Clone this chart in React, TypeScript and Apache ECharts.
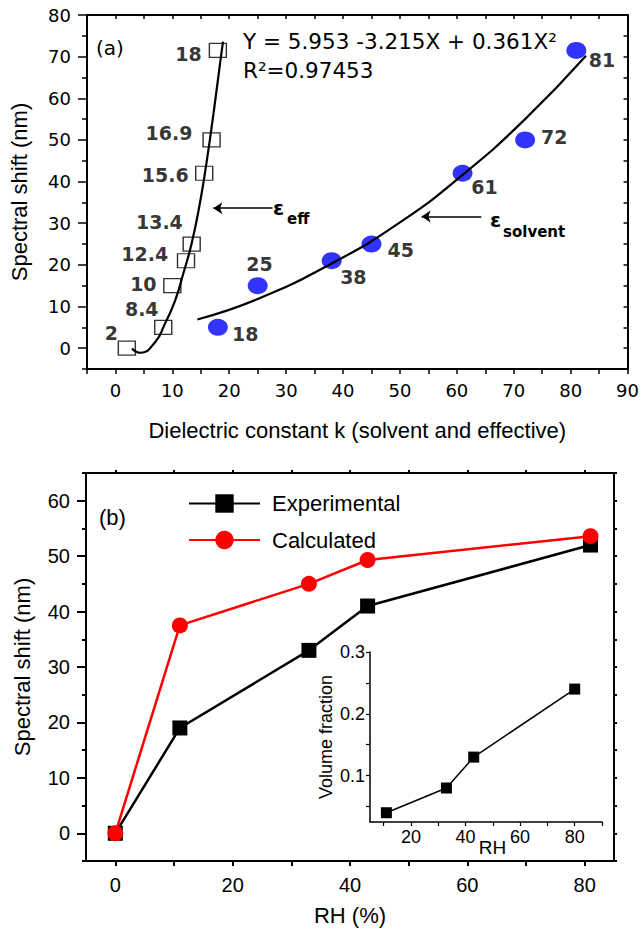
import React, { useEffect, useRef } from "react";
import * as echarts from "echarts";

// ---- Panel (a) data ----
const effK = [2, 8.4, 10, 12.4, 13.4, 15.6, 16.9, 18];
const effShift = [0, 5, 15, 21, 25, 42, 50, 71.5];
const solvK = [18, 25, 38, 45, 61, 72, 81];
const solvShift = [5, 15, 21, 25, 42, 50, 71.5];
// fit curves
const effFitK = [2.9, 4.4, 7.0, 8.7, 10.5, 11.9, 13.4, 14.8, 16.0, 17.2, 18.3, 18.9];
const effFitShift = [-0.1, -1.1, 1.5, 5.9, 11.5, 17.8, 25.2, 34.5, 44.5, 56, 67.5, 73.6];
const solvFitK = [14.4, 25, 38.1, 50, 61, 72, 82.7];
const solvFitShift = [6.9, 11.8, 20.4, 30.2, 41.6, 55.0, 70.2];
const effArrow = [[27.6, 33.6], [17.2, 33.6]];
const solvArrow = [[64.3, 31.6], [53.8, 31.6]];
const topXLabels = [0, 10, 20, 30, 40, 50, 60, 70, 80, 90];
const topXTicks = [-5, 0, 5, 10, 15, 20, 25, 30, 35, 40, 45, 50, 55, 60, 65, 70, 75, 80, 85, 90];
const topYLabels = [0, 10, 20, 30, 40, 50, 60, 70, 80];
const topYMinor = [-5, 5, 15, 25, 35, 45, 55, 65, 75];
const topYAll = [-5, 0, 5, 10, 15, 20, 25, 30, 35, 40, 45, 50, 55, 60, 65, 70, 75, 80];
const equationText = "Y = 5.953 -3.215X + 0.361X²";
const r2Text = "R²=0.97453";

// ---- Panel (b) data ----
const rhValues = [0, 11, 33, 43, 81];
const expShift = [0, 19, 33, 41, 52];
const calcShift = [0, 37.5, 45, 49.3, 53.6];
const bXLabels = [0, 20, 40, 60, 80];
const bXTicks = [0, 10, 20, 30, 40, 50, 60, 70, 80];
const bYLabels = [0, 10, 20, 30, 40, 50, 60];
const bYMinor = [-5, 5, 15, 25, 35, 45, 55, 65];
const bYAll = [-5, 0, 5, 10, 15, 20, 25, 30, 35, 40, 45, 50, 55, 60, 65];
// inset
const insetRH = [11, 33, 43, 80];
const insetFraction = [0.04, 0.08, 0.13, 0.24];
const insetXLabels = [20, 40, 60, 80];
const insetXTicks = [10, 20, 30, 40, 50, 60, 70, 80, 90];
const insetYLabels = [0.1, 0.2, 0.3];
const insetYTicks = [0.05, 0.1, 0.15, 0.2, 0.25, 0.3];

// label offsets (style)
const effLabelOffset = [[-15.5, -15], [-21.5, -18], [-29, -2], [-41.3, -7], [-32.3, -22], [-39, 2], [-42.7, -6.5], [-29.3, 3.5]];
const solvLabelOffset = [[27.3, 6.5], [1.7, -22], [21.7, 16], [29.3, 6], [22, 13.5], [29, -3.3], [25.7, 9.5]];

const DJ = "DejaVu Sans";
const LIB = "Liberation Sans, Arial, sans-serif";

export default function App() {
  const ref = useRef<HTMLDivElement>(null);
  useEffect(() => {
    if (!ref.current) return;
    const chart = echarts.init(ref.current, undefined, { renderer: "svg" });
    const black = "#000";
    const axisLine = { show: true, onZero: false, lineStyle: { color: black, width: 2 } };
    const hiddenLine = { show: false, onZero: false };
    const noSplit = { show: false };

    const option: any = {
      animation: false,
      backgroundColor: "#fff",
      grid: [
        { left: 86, top: 15, width: 544, height: 354 },
        { left: 86, top: 473, width: 528, height: 388 },
        { left: 370, top: 652, width: 232, height: 170 },
      ],
      legend: {
        data: ["Experimental", "Calculated"],
        orient: "vertical",
        left: 183,
        top: 487.5,
        itemWidth: 71,
        itemHeight: 23,
        itemGap: 14.5,
        textStyle: { fontFamily: LIB, fontSize: 22, color: black, padding: [0, 0, 0, 7] },
      },
      xAxis: [
        {
          gridIndex: 0, type: "value", position: "bottom", min: -5, max: 90,
          axisLine, splitLine: noSplit,
          axisTick: { show: true, customValues: topXTicks, length: 5, lineStyle: { color: black, width: 1.5 } },
          axisLabel: { customValues: topXLabels, fontFamily: DJ, fontSize: 18, color: black, margin: 12 },
          name: "Dielectric constant k (solvent and effective)", nameLocation: "middle", nameGap: 50,
          nameMoveOverlap: false,
          nameTextStyle: { fontFamily: LIB, fontSize: 22, color: black },
        },
        {
          gridIndex: 0, type: "value", position: "top", min: -5, max: 90,
          axisLine, splitLine: noSplit,
          axisTick: { show: true, inside: true, customValues: topXTicks, length: 4, lineStyle: { color: black, width: 1.5 } },
          axisLabel: { show: false },
        },
        {
          gridIndex: 1, type: "value", position: "bottom", min: -5, max: 85,
          axisLine, splitLine: noSplit,
          axisTick: { show: true, customValues: bXTicks, length: 5, lineStyle: { color: black, width: 2 } },
          axisLabel: { customValues: bXLabels, fontFamily: LIB, fontSize: 20, color: black, margin: 14 },
          name: "RH (%)", nameLocation: "middle", nameGap: 43, nameMoveOverlap: false,
          nameTextStyle: { fontFamily: LIB, fontSize: 22, color: black },
        },
        {
          gridIndex: 1, type: "value", position: "top", min: -5, max: 85,
          axisLine, splitLine: noSplit,
          axisTick: { show: true, customValues: bXTicks, length: 3, lineStyle: { color: black, width: 2 } },
          axisLabel: { show: false },
        },
        {
          gridIndex: 2, type: "value", position: "bottom", min: 5, max: 90,
          axisLine: { show: true, onZero: false, lineStyle: { color: black, width: 1.5 } }, splitLine: noSplit,
          axisTick: { show: true, customValues: insetXTicks, length: 4, lineStyle: { color: black, width: 1.2 } },
          axisLabel: { customValues: insetXLabels, fontFamily: LIB, fontSize: 18, color: black, margin: 6 },
          name: "RH", nameLocation: "middle", nameGap: 16, nameMoveOverlap: false,
          nameTextStyle: { fontFamily: LIB, fontSize: 19, color: black, padding: [0, 0, 0, 13] },
        },
      ],
      yAxis: [
        {
          gridIndex: 0, type: "value", position: "left", min: -5, max: 80,
          axisLine, splitLine: noSplit,
          axisTick: { show: true, customValues: topYLabels, length: 9, lineStyle: { color: black, width: 1.5 } },
          axisLabel: { customValues: topYLabels, fontFamily: DJ, fontSize: 18, color: black, margin: 16 },
          name: "Spectral shift (nm)", nameLocation: "middle", nameGap: 57, nameMoveOverlap: false,
          nameTextStyle: { fontFamily: LIB, fontSize: 22, color: black },
        },
        {
          gridIndex: 0, type: "value", position: "left", min: -5, max: 80,
          axisLine: hiddenLine, splitLine: noSplit, axisLabel: { show: false },
          axisTick: { show: true, customValues: topYMinor, length: 5, lineStyle: { color: black, width: 1.5 } },
        },
        {
          gridIndex: 0, type: "value", position: "right", min: -5, max: 80,
          axisLine, splitLine: noSplit, axisLabel: { show: false },
          axisTick: { show: true, inside: true, customValues: topYAll, length: 4, lineStyle: { color: black, width: 1.5 } },
        },
        {
          gridIndex: 1, type: "value", position: "left", min: -5, max: 65,
          axisLine, splitLine: noSplit,
          axisTick: { show: true, customValues: bYLabels, length: 9, lineStyle: { color: black, width: 2 } },
          axisLabel: { customValues: bYLabels, fontFamily: LIB, fontSize: 20, color: black, margin: 16 },
          name: "Spectral shift (nm)", nameLocation: "middle", nameGap: 53, nameMoveOverlap: false,
          nameTextStyle: { fontFamily: LIB, fontSize: 22, color: black },
        },
        {
          gridIndex: 1, type: "value", position: "left", min: -5, max: 65,
          axisLine: hiddenLine, splitLine: noSplit, axisLabel: { show: false },
          axisTick: { show: true, customValues: bYMinor, length: 4, lineStyle: { color: black, width: 2 } },
        },
        {
          gridIndex: 1, type: "value", position: "right", min: -5, max: 65,
          axisLine, splitLine: noSplit, axisLabel: { show: false },
          axisTick: { show: true, customValues: bYAll, length: 3, lineStyle: { color: black, width: 2 } },
        },
        {
          gridIndex: 2, type: "value", position: "left", min: 0.025, max: 0.3,
          axisLine: { show: true, onZero: false, lineStyle: { color: black, width: 1.5 } }, splitLine: noSplit,
          axisTick: { show: true, customValues: insetYTicks, length: 4, lineStyle: { color: black, width: 1.2 } },
          axisLabel: { customValues: insetYLabels, fontFamily: LIB, fontSize: 18, color: black, margin: 5 },
          name: "Volume fraction", nameLocation: "middle", nameGap: 35, nameMoveOverlap: false,
          nameTextStyle: { fontFamily: LIB, fontSize: 18, color: black },
        },
      ],
      series: [
        {
          name: "eff", type: "scatter", xAxisIndex: 0, yAxisIndex: 0, z: 3,
          symbol: "rect", symbolSize: [17, 14],
          itemStyle: { color: "rgba(255,255,255,0)", borderColor: black, borderWidth: 1.3 },
          label: {
            show: true, position: "inside", fontFamily: DJ, fontWeight: "bold", fontSize: 19, color: black,
            formatter: (p: any) => String(p.value[0]),
          },
          data: effK.map((k, i) => ({ value: [k, effShift[i]], label: { offset: effLabelOffset[i] } })),
        },
        {
          name: "solv", type: "scatter", xAxisIndex: 0, yAxisIndex: 0, z: 2,
          symbol: "circle", symbolSize: [20, 17],
          itemStyle: { color: "#0000ff" },
          label: {
            show: true, position: "inside", fontFamily: DJ, fontWeight: "bold", fontSize: 19, color: black,
            formatter: (p: any) => String(p.value[0]),
          },
          data: solvK.map((k, i) => ({ value: [k, solvShift[i]], label: { offset: solvLabelOffset[i] } })),
        },
        {
          name: "effFit", type: "line", xAxisIndex: 0, yAxisIndex: 0, z: 4,
          showSymbol: false, symbol: "none", smooth: 0.5,
          lineStyle: { color: black, width: 2.2 },
          data: effFitK.map((k, i) => [k, effFitShift[i]]),
          markLine: {
            silent: true, symbol: ["none", "arrow"], symbolSize: 9,
            label: { show: false },
            lineStyle: { color: black, width: 1.5, type: "solid" },
            data: [
              [{ coord: effArrow[0] }, { coord: effArrow[1] }],
              [{ coord: solvArrow[0] }, { coord: solvArrow[1] }],
            ],
          },
        },
        {
          name: "solvFit", type: "line", xAxisIndex: 0, yAxisIndex: 0, z: 4,
          showSymbol: false, symbol: "none", smooth: 0.5,
          lineStyle: { color: black, width: 2.2 },
          data: solvFitK.map((k, i) => [k, solvFitShift[i]]),
        },
        {
          name: "Experimental", type: "line", xAxisIndex: 2, yAxisIndex: 3,
          symbol: "rect", symbolSize: 15,
          itemStyle: { color: black },
          lineStyle: { color: black, width: 2.5 },
          data: rhValues.map((r, i) => [r, expShift[i]]),
        },
        {
          name: "Calculated", type: "line", xAxisIndex: 2, yAxisIndex: 3,
          symbol: "circle", symbolSize: 16,
          itemStyle: { color: "#ff0000" },
          lineStyle: { color: "#ff0000", width: 2.5 },
          data: rhValues.map((r, i) => [r, calcShift[i]]),
        },
        {
          name: "inset", type: "line", xAxisIndex: 4, yAxisIndex: 6,
          symbol: "rect", symbolSize: 11,
          itemStyle: { color: black },
          lineStyle: { color: black, width: 1.5 },
          data: insetRH.map((r, i) => [r, insetFraction[i]]),
        },
      ],
      graphic: [
        { type: "text", x: 96, y: 47.5, style: { text: "(a)", font: `20px "${DJ}"`, fill: black, verticalAlign: "middle" } },
        { type: "text", x: 243, y: 41, style: { text: equationText, font: `21.5px "${DJ}"`, fill: black, verticalAlign: "middle" } },
        { type: "text", x: 243, y: 70.5, style: { text: r2Text, font: `21.5px "${DJ}"`, fill: black, verticalAlign: "middle" } },
        { type: "text", x: 273, y: 208, style: { text: "ε", font: `bold 20px "${DJ}"`, fill: black, verticalAlign: "middle" } },
        { type: "text", x: 287, y: 219, style: { text: "eff", font: `bold 15px "${DJ}"`, fill: black, verticalAlign: "middle" } },
        { type: "text", x: 490, y: 219.5, style: { text: "ε", font: `bold 20px "${DJ}"`, fill: black, verticalAlign: "middle" } },
        { type: "text", x: 503, y: 232, style: { text: "solvent", font: `bold 15px "${DJ}"`, fill: black, verticalAlign: "middle" } },
        { type: "text", x: 99, y: 517, style: { text: "(b)", font: `22px ${LIB}`, fill: black, verticalAlign: "middle" } },
      ],
    };
    chart.setOption(option);
    return () => chart.dispose();
  }, []);
  return <div ref={ref} style={{ position: "fixed", left: 0, top: 0, width: 642, height: 930, background: "#fff" }} />;
}
